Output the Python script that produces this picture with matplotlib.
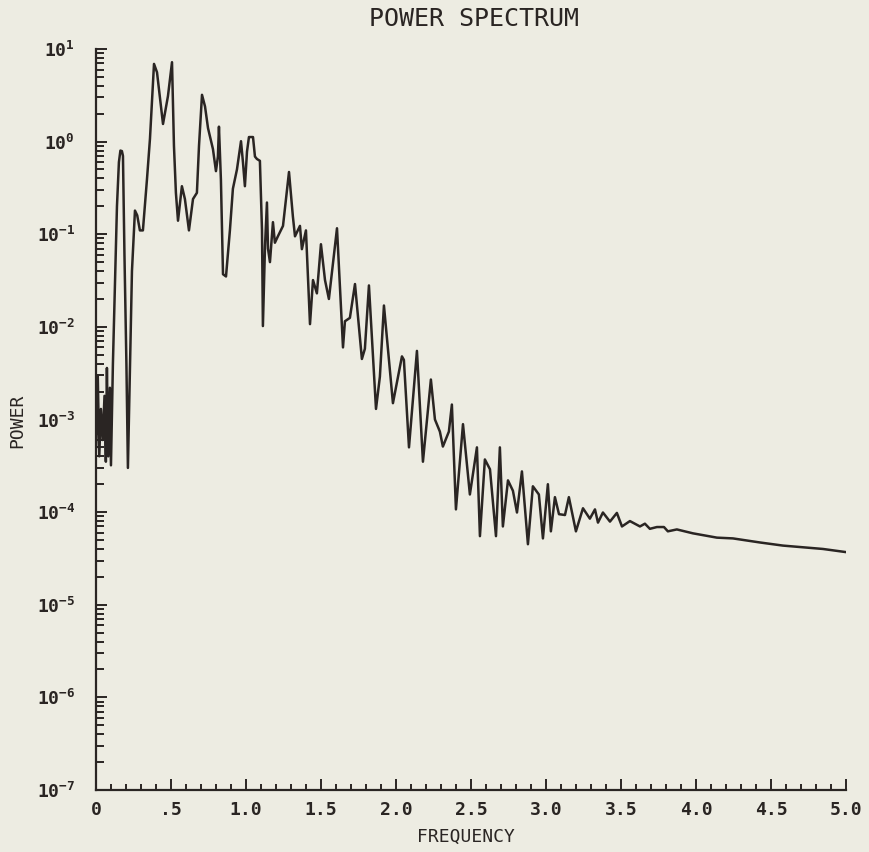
import matplotlib
matplotlib.use('Agg')
import matplotlib.pyplot as plt
from matplotlib.ticker import LogLocator, NullFormatter, MultipleLocator

# plotter-like mono font for every text
plt.rcParams['font.family'] = 'DejaVu Sans Mono'
plt.rcParams['mathtext.fontset'] = 'custom'
plt.rcParams['mathtext.rm'] = 'DejaVu Sans Mono'
plt.rcParams['mathtext.it'] = 'DejaVu Sans Mono'
plt.rcParams['mathtext.bf'] = 'DejaVu Sans Mono:bold'

''' spectrum read off the old plot (frequency, power) '''
freq = [0.000, 0.012, 0.022, 0.033, 0.045, 0.057, 0.066, 0.073, 0.082, 0.093,
        0.100, 0.113, 0.127, 0.140, 0.153, 0.163, 0.173, 0.180, 0.190, 0.203,
        0.213, 0.227, 0.240, 0.260, 0.275, 0.293, 0.313, 0.340, 0.360, 0.387,
        0.407, 0.447, 0.480, 0.507, 0.520, 0.533, 0.547, 0.573, 0.593, 0.620,
        0.647, 0.673, 0.687, 0.707, 0.727, 0.747, 0.780, 0.800, 0.813, 0.820,
        0.833, 0.847, 0.867, 0.893, 0.913, 0.940, 0.967, 0.980, 0.993, 1.007,
        1.020, 1.047, 1.060, 1.073, 1.093, 1.107, 1.113, 1.127, 1.140, 1.147,
        1.160, 1.180, 1.193, 1.213, 1.247, 1.287, 1.313, 1.327, 1.360, 1.373,
        1.400, 1.427, 1.447, 1.473, 1.500, 1.527, 1.553, 1.607, 1.647, 1.660,
        1.693, 1.727, 1.773, 1.793, 1.820, 1.867, 1.893, 1.920, 1.980, 2.040,
        2.053, 2.087, 2.140, 2.180, 2.233, 2.260, 2.293, 2.313, 2.353, 2.373,
        2.400, 2.447, 2.493, 2.540, 2.560, 2.593, 2.627, 2.667, 2.693, 2.713,
        2.747, 2.780, 2.807, 2.840, 2.880, 2.913, 2.953, 2.980, 3.013, 3.033,
        3.060, 3.087, 3.127, 3.153, 3.200, 3.247, 3.293, 3.327, 3.347, 3.380,
        3.427, 3.473, 3.507, 3.560, 3.627, 3.660, 3.693, 3.740, 3.787, 3.813,
        3.873, 3.980, 4.113, 4.140, 4.247, 4.427, 4.580, 4.693, 4.847, 5.000]
power = [5e-4, 3e-3, 4e-4, 1.3e-3, 6e-4, 1.8e-3, 3.5e-4, 3.6e-3, 4e-4, 2.2e-3,
         3.2e-4, 4e-3, 0.03, 0.2, 0.6, 0.8, 0.79, 0.7, 0.06, 0.004,
         3e-4, 0.004, 0.04, 0.18, 0.16, 0.11, 0.11, 0.39, 1.07, 6.9,
         5.6, 1.55, 3.1, 7.2, 0.9, 0.28, 0.14, 0.33, 0.24, 0.11,
         0.24, 0.28, 0.9, 3.2, 2.4, 1.4, 0.83, 0.48, 0.69, 1.45,
         0.39, 0.037, 0.035, 0.11, 0.31, 0.5, 1.01, 0.6, 0.33, 0.78,
         1.12, 1.12, 0.69, 0.65, 0.62, 0.11, 0.0102, 0.074, 0.22, 0.07,
         0.05, 0.135, 0.081, 0.095, 0.123, 0.47, 0.155, 0.095, 0.123, 0.069,
         0.11, 0.0107, 0.032, 0.023, 0.078, 0.032, 0.02, 0.116, 0.006, 0.0115,
         0.0125, 0.029, 0.0045, 0.0058, 0.028, 0.0013, 0.0029, 0.017, 0.0015, 0.0048,
         0.0044, 5e-4, 0.0055, 3.5e-4, 0.0027, 1e-3, 7.4e-4, 5.1e-4, 7.4e-4, 1.45e-3,
         1.07e-4, 8.9e-4, 1.55e-4, 5e-4, 5.5e-5, 3.7e-4, 2.9e-4, 5.5e-5, 5e-4, 7e-5,
         2.2e-4, 1.7e-4, 9.9e-5, 2.75e-4, 4.5e-5, 1.9e-4, 1.55e-4, 5.2e-5, 2e-4, 6.2e-5,
         1.45e-4, 9.5e-5, 9.3e-5, 1.45e-4, 6.2e-5, 1.1e-4, 8.5e-5, 1.07e-4, 7.7e-5, 9.9e-5,
         7.9e-5, 9.8e-5, 7e-5, 8e-5, 7e-5, 7.5e-5, 6.6e-5, 6.9e-5, 6.9e-5, 6.2e-5,
         6.5e-5, 5.9e-5, 5.4e-5, 5.3e-5, 5.2e-5, 4.7e-5, 4.35e-5, 4.2e-5, 4e-5, 3.7e-5]

x_ticks = [0, 0.5, 1.0, 1.5, 2.0, 2.5, 3.0, 3.5, 4.0, 4.5, 5.0]
x_labels = ['0', '.5', '1.0', '1.5', '2.0', '2.5', '3.0', '3.5', '4.0', '4.5', '5.0']
y_exps = [-7, -6, -5, -4, -3, -2, -1, 0, 1]

bg = '#edece2'
ink = '#2a2523'

fig = plt.figure(figsize=(8.7, 8.52), dpi=100, facecolor=bg)
ax = fig.add_axes([0.1103, 0.0728, 0.862, 0.8697])
ax.set_facecolor(bg)

ax.plot(freq, power, color=ink, lw=1.8, solid_joinstyle='round')

ax.set_yscale('log')
ax.set_xlim(0, 5.0)
ax.set_ylim(1e-7, 10)

# axes: only left + bottom, ticks point inwards
for side in ['top', 'right']:
    ax.spines[side].set_visible(False)
for side in ['left', 'bottom']:
    ax.spines[side].set_color(ink)
    ax.spines[side].set_linewidth(1.6)

ax.set_xticks(x_ticks)
ax.set_xticklabels(x_labels, fontweight='bold', fontsize=13)
ax.xaxis.set_minor_locator(MultipleLocator(0.1))

ax.set_yticks([10.0 ** e for e in y_exps])
ax.set_yticklabels([r'$\mathbf{10^{%d}}$' % e for e in y_exps], fontsize=13)
ax.yaxis.set_minor_locator(LogLocator(base=10, subs=range(2, 10), numticks=20))
ax.yaxis.set_minor_formatter(NullFormatter())

ax.tick_params(axis='x', which='major', direction='in', length=8, width=1.4, color=ink, labelcolor=ink, pad=8)
ax.tick_params(axis='x', which='minor', direction='in', length=4.5, width=1.4, color=ink)
ax.tick_params(axis='y', which='major', direction='in', length=8, width=1.4, color=ink, labelcolor=ink, pad=15)
ax.tick_params(axis='y', which='minor', direction='in', length=6, width=1.4, color=ink)

# labels as free text (placed like the plotter did)
fig.text(0.545, 1 - 19 / 852, 'POWER SPECTRUM', ha='center', va='center', fontsize=18, color=ink)
fig.text(0.536, 1 - 837 / 852, 'FREQUENCY', ha='center', va='center', fontsize=13, color=ink)
fig.text(0.0195, 0.506, 'POWER', ha='center', va='center', rotation=90, fontsize=13, color=ink)

fig.savefig('out.png', dpi=100, facecolor=bg)
